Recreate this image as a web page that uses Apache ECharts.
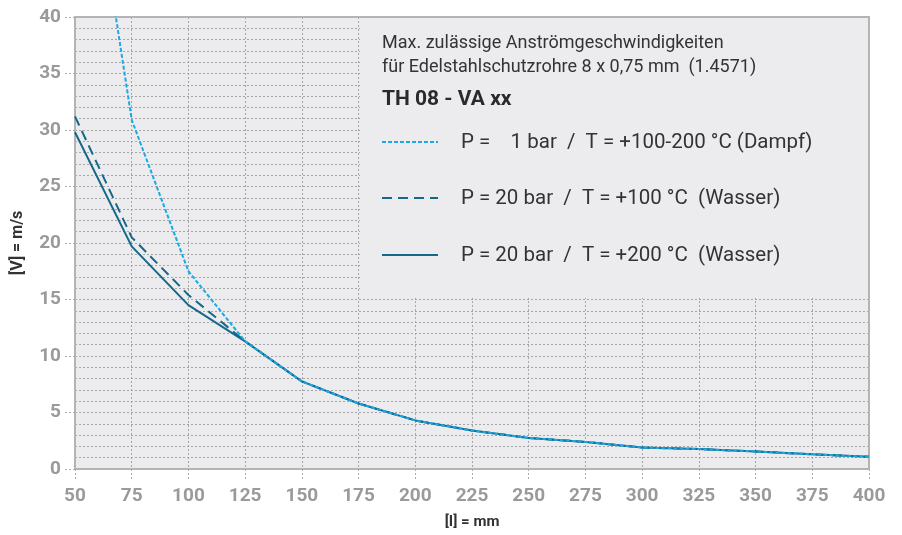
<!DOCTYPE html>
<html>
<head>
<meta charset="utf-8">
<script src="https://cdn.jsdelivr.net/npm/echarts@6/dist/echarts.min.js"></script>
<style>html,body{margin:0;padding:0;background:#fff}#c{width:902px;height:535px}</style>
</head>
<body>
<div id="c"></div>
<script>
const lengths = [50, 75, 100, 125, 150, 175, 200, 225, 250, 275, 300, 325, 350, 375, 400];
const steam1bar = [63.5, 30.9, 17.5, 11.3, 7.75, 5.8, 4.3, 3.4, 2.75, 2.4, 1.9, 1.76, 1.55, 1.3, 1.08];
const water100 = [31.2, 20.5, 15.4, 11.3, 7.75, 5.8, 4.3, 3.4, 2.75, 2.4, 1.9, 1.76, 1.55, 1.3, 1.08];
const water200 = [29.8, 19.7, 14.5, 11.3, 7.75, 5.8, 4.3, 3.4, 2.75, 2.4, 1.9, 1.76, 1.55, 1.3, 1.08];
const seriesNames = [
  'P =    1 bar  /  T = +100-200 °C (Dampf)',
  'P = 20 bar  /  T = +100 °C  (Wasser)',
  'P = 20 bar  /  T = +200 °C  (Wasser)'
];
const titleLines = ['Max. zulässige Anströmgeschwindigkeiten', 'für Edelstahlschutzrohre 8 x 0,75 mm  (1.4571)'];
const subTitle = 'TH 08 - VA xx';

const pair = arr => lengths.map((x, i) => [x, arr[i]]);
const FONT = 'Roboto, "Liberation Sans", sans-serif';
const DARK = '#15688a', LIGHT = '#19a9e5';
const styles = [
  { color: LIGHT, dash: [4, 2] },
  { color: DARK, dash: [10, 6] },
  { color: DARK, dash: null }
];
const legendRows = [142, 198, 255];
const legendGraphics = [];
seriesNames.forEach((n, i) => {
  legendGraphics.push({ type: 'line', z: 5, shape: { x1: 382, y1: legendRows[i], x2: 438, y2: legendRows[i] },
    style: { stroke: styles[i].color, lineWidth: 2, lineDash: styles[i].dash } });
  legendGraphics.push({ type: 'text', z: 5, x: 461, y: legendRows[i] + 1,
    style: { text: n, fontFamily: FONT, fontSize: 20.5, fill: '#333', verticalAlign: 'middle' } });
});

const chart = echarts.init(document.getElementById('c'));
chart.setOption({
  animation: false,
  grid: { left: 75, right: 33, top: 17, bottom: 64, show: true, backgroundColor: '#ECECEE', borderWidth: 0 },
  xAxis: [{
    type: 'value', min: 50, max: 400, interval: 25,
    name: '[I] = mm', nameLocation: 'middle', nameGap: 46,
    nameTextStyle: { fontFamily: FONT, fontWeight: 'bold', fontSize: 15, color: '#333' },
    axisLine: { show: true, lineStyle: { color: '#b4b4b4', width: 2 } },
    axisTick: { show: true, length: 11, lineStyle: { color: '#aaa', type: [2, 2], width: 1 } },
    axisLabel: { fontFamily: FONT, fontWeight: 'bold', fontSize: 19, color: '#9a9a9c', margin: 18 },
    splitLine: { show: true, lineStyle: { color: '#a6a6a8', type: [2, 2], width: 1 } }
  }, {
    type: 'value', position: 'top', min: 50, max: 400, interval: 25,
    axisLine: { show: true, onZero: false, lineStyle: { color: '#b4b4b4', width: 2 } },
    axisTick: { show: false }, axisLabel: { show: false }, splitLine: { show: false }
  }],
  yAxis: [{
    type: 'value', min: 0, max: 40, interval: 5,
    name: '[V] = m/s', nameLocation: 'middle', nameGap: 49,
    nameTextStyle: { fontFamily: FONT, fontWeight: 'bold', fontSize: 16, color: '#333' },
    axisLine: { show: true, lineStyle: { color: '#b4b4b4', width: 2 } },
    axisTick: { show: true, length: 12, lineStyle: { color: '#aaa', type: [2, 2], width: 1 } },
    axisLabel: { fontFamily: FONT, fontWeight: 'bold', fontSize: 19, color: '#9a9a9c', margin: 14 },
    splitLine: { show: true, lineStyle: { color: '#a6a6a8', type: [2, 2], width: 1 } },
    minorTick: { show: false, splitNumber: 5 },
    minorSplitLine: { show: true, lineStyle: { color: '#a6a6a8', type: [2, 2], width: 1 } }
  }, {
    type: 'value', position: 'right', min: 0, max: 40, interval: 5,
    axisLine: { show: true, onZero: false, lineStyle: { color: '#b4b4b4', width: 2 } },
    axisTick: { show: false }, axisLabel: { show: false }, splitLine: { show: false }
  }],
  graphic: [
    { type: 'rect', z: 1, shape: { x: 360, y: 18, width: 508, height: 280 }, style: { fill: '#ECECEE' } },
    { type: 'text', z: 5, x: 382, y: 31, style: { text: titleLines.join('\n'), fontFamily: FONT, fontSize: 18, lineHeight: 24, fill: '#333' } },
    { type: 'text', z: 5, x: 382, y: 89, style: { text: subTitle, fontFamily: FONT, fontSize: 21, fontWeight: 'bold', fill: '#2a2a2a' } }
  ].concat(legendGraphics),
  series: [
    { name: seriesNames[2], type: 'line', data: pair(water200), showSymbol: false, clip: true, z: 2,
      lineStyle: { color: DARK, width: 2 }, itemStyle: { color: DARK } },
    { name: seriesNames[1], type: 'line', data: pair(water100), showSymbol: false, clip: true, z: 3,
      lineStyle: { color: DARK, width: 2, type: [10, 6] }, itemStyle: { color: DARK } },
    { name: seriesNames[0], type: 'line', data: pair(steam1bar), showSymbol: false, clip: true, z: 4,
      lineStyle: { color: LIGHT, width: 2, type: [4, 2] }, itemStyle: { color: LIGHT } }
  ]
});
</script>
</body>
</html>
